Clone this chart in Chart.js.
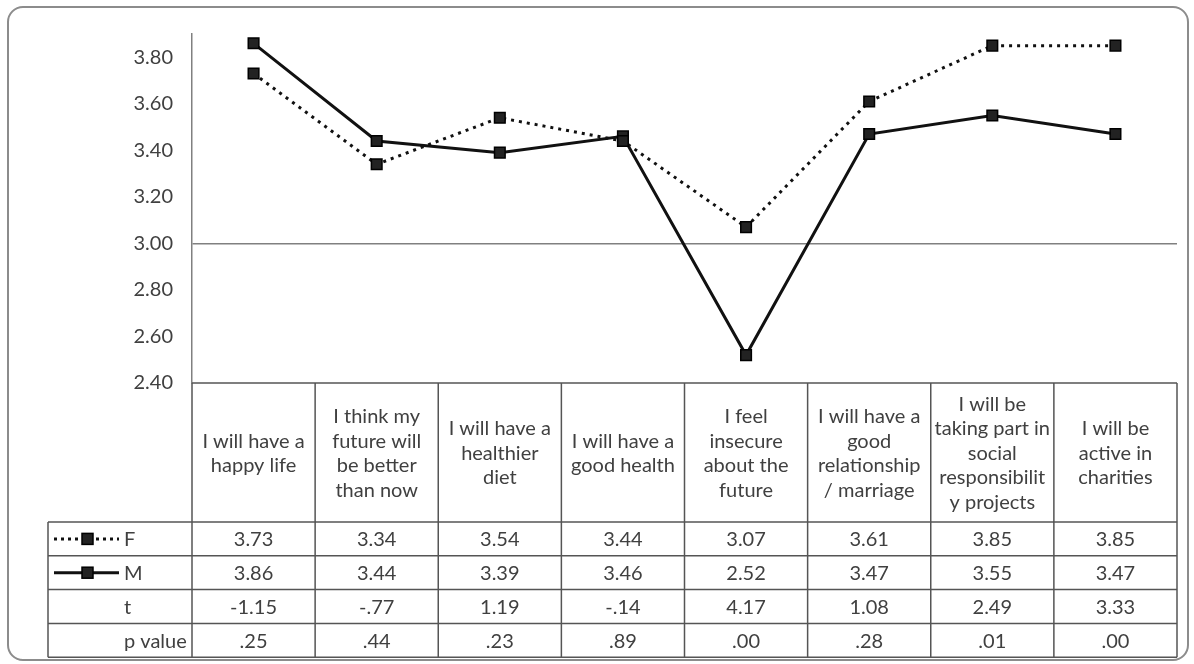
<!DOCTYPE html>
<html>
<head>
<meta charset="utf-8">
<script src="https://cdn.jsdelivr.net/npm/chart.js@4.4.0/dist/chart.umd.min.js"></script>
<style>
  body { margin: 0; background: #fff; }
  canvas { display: block; }
</style>
</head>
<body>
<canvas id="chart" width="1194" height="664"></canvas>
<script>
var categories = [
  ['I will have a', 'happy life'],
  ['I think my', 'future will', 'be better', 'than now'],
  ['I will have a', 'healthier', 'diet'],
  ['I will have a', 'good health'],
  ['I feel', 'insecure', 'about the', 'future'],
  ['I will have a', 'good', 'relationship', '/ marriage'],
  ['I will be', 'taking part in', 'social', 'responsibilit', 'y projects'],
  ['I will be', 'active in', 'charities']
];
var femaleMeans = [3.73, 3.34, 3.54, 3.44, 3.07, 3.61, 3.85, 3.85];
var maleMeans = [3.86, 3.44, 3.39, 3.46, 2.52, 3.47, 3.55, 3.47];
var tValues = ['-1.15', '-.77', '1.19', '-.14', '4.17', '1.08', '2.49', '3.33'];
var pValues = ['.25', '.44', '.23', '.89', '.00', '.28', '.01', '.00'];
var yTicks = [2.4, 2.6, 2.8, 3.0, 3.2, 3.4, 3.6, 3.8];

var FONT = '20px Lato';
var TEXT = '#404040';
var LINE = '#555';

// white page + rounded frame
var frame = {
  id: 'frame',
  beforeDraw: function(chart) {
    var ctx = chart.ctx;
    ctx.save();
    ctx.fillStyle = '#fff';
    ctx.fillRect(0, 0, chart.width, chart.height);
    ctx.strokeStyle = '#8c8c8c';
    ctx.lineWidth = 2;
    ctx.beginPath();
    ctx.roundRect(8, 7, 1180, 653, 15);
    ctx.stroke();
    ctx.restore();
  }
};

function drawKey(ctx, y, dashed) {
  ctx.save();
  ctx.strokeStyle = '#111';
  ctx.lineWidth = 3;
  ctx.setLineDash(dashed ? [3, 4] : []);
  ctx.beginPath();
  ctx.moveTo(54, y);
  ctx.lineTo(119, y);
  ctx.stroke();
  ctx.setLineDash([]);
  ctx.fillStyle = '#222';
  ctx.strokeStyle = '#000';
  ctx.lineWidth = 1.5;
  ctx.fillRect(82, y - 5.5, 11, 11);
  ctx.strokeRect(82, y - 5.5, 11, 11);
  ctx.restore();
}

// data table under the plot
var dataTable = {
  id: 'dataTable',
  afterDraw: function(chart) {
    var ctx = chart.ctx;
    var area = chart.chartArea;
    var x = chart.scales.x;
    var n = categories.length;
    var colW = (area.right - area.left) / n;
    var top = area.bottom;
    var headBottom = top + 139;
    var rowH = 33.8;
    var labelLeft = 48;
    var rows = [
      { label: 'F', key: 'dash', values: femaleMeans.map(function(v) { return v.toFixed(2); }) },
      { label: 'M', key: 'solid', values: maleMeans.map(function(v) { return v.toFixed(2); }) },
      { label: 't', values: tValues },
      { label: 'p value', values: pValues }
    ];
    var bottom = headBottom + rowH * rows.length;

    ctx.save();
    ctx.strokeStyle = LINE;
    ctx.lineWidth = 1.5;
    ctx.beginPath();
    // header top
    ctx.moveTo(area.left, top); ctx.lineTo(area.right, top);
    // row lines
    for (var r = 0; r <= rows.length; r++) {
      var yy = headBottom + rowH * r;
      ctx.moveTo(labelLeft, yy); ctx.lineTo(area.right, yy);
    }
    // column lines
    for (var c = 0; c <= n; c++) {
      var xx = area.left + colW * c;
      ctx.moveTo(xx, top); ctx.lineTo(xx, bottom);
    }
    ctx.moveTo(labelLeft, headBottom); ctx.lineTo(labelLeft, bottom);
    ctx.stroke();

    ctx.font = FONT;
    ctx.fillStyle = TEXT;
    ctx.textAlign = 'center';
    ctx.textBaseline = 'middle';
    var lh = 24.5;
    categories.forEach(function(lines, i) {
      var cx = x.getPixelForValue(i);
      var cy = (top + headBottom) / 2 - (lines.length - 1) * lh / 2;
      lines.forEach(function(s, k) {
        ctx.fillText(s, cx, cy + k * lh + 1);
      });
    });

    rows.forEach(function(row, r) {
      var cy = headBottom + rowH * (r + 0.5);
      ctx.textAlign = 'center';
      row.values.forEach(function(v, i) {
        ctx.fillText(v, x.getPixelForValue(i), cy + 1);
      });
      ctx.textAlign = 'left';
      ctx.fillText(row.label, 124, cy + 1);
      if (row.key) drawKey(ctx, cy, row.key === 'dash');
    });
    ctx.restore();
  }
};

new Chart(document.getElementById('chart'), {
  type: 'line',
  data: {
    labels: categories.map(function(l) { return l.join(' '); }),
    datasets: [
      {
        label: 'F',
        data: femaleMeans,
        borderColor: '#111',
        borderWidth: 3,
        borderDash: [3, 5],
        pointStyle: 'rect',
        pointRadius: 7.5,
        pointBackgroundColor: '#222',
        pointBorderColor: '#000',
        pointBorderWidth: 1.5,
        tension: 0
      },
      {
        label: 'M',
        data: maleMeans,
        borderColor: '#111',
        borderWidth: 3,
        pointStyle: 'rect',
        pointRadius: 7.5,
        pointBackgroundColor: '#222',
        pointBorderColor: '#000',
        pointBorderWidth: 1.5,
        tension: 0
      }
    ]
  },
  options: {
    responsive: false,
    animation: false,
    devicePixelRatio: 1,
    layout: { padding: { left: 0, top: 34, right: 17, bottom: 281 } },
    plugins: {
      legend: { display: false },
      tooltip: { enabled: false }
    },
    scales: {
      x: {
        display: false,
        offset: true
      },
      y: {
        min: 2.4,
        max: 3.9,
        afterBuildTicks: function(scale) {
          scale.ticks = yTicks.map(function(v) { return { value: v }; });
        },
        afterFit: function(scale) { scale.width = 192; },
        border: { display: true, color: '#808080', width: 1.5 },
        grid: {
          drawTicks: false,
          lineWidth: 1.5,
          color: function(c) {
            return c.tick && c.tick.value === 3 ? '#808080' : 'rgba(0,0,0,0)';
          }
        },
        ticks: {
          padding: 19,
          color: TEXT,
          font: { family: 'Lato', size: 20 },
          callback: function(v) { return Number(v).toFixed(2); }
        }
      }
    }
  },
  plugins: [frame, dataTable]
});
</script>
</body>
</html>
